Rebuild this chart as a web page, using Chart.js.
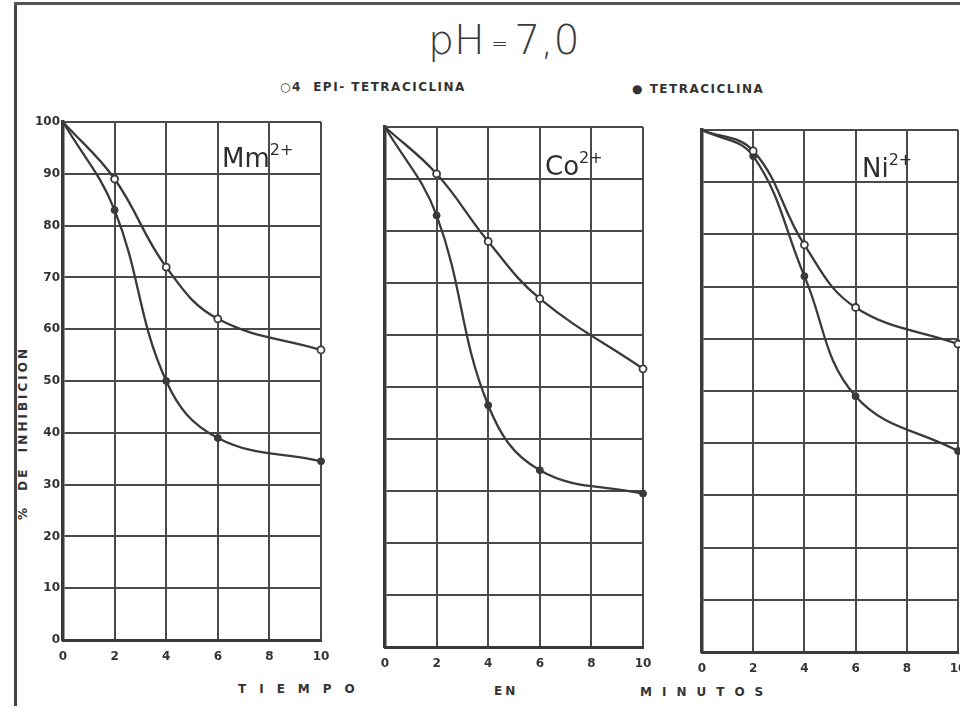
<!DOCTYPE html>
<html>
<head>
<meta charset="utf-8">
<script src="https://cdn.jsdelivr.net/npm/chart.js@4.4.1/dist/chart.umd.min.js"></script>
<style>
  html, body { margin:0; padding:0; background:#fff; width:960px; height:706px; overflow:hidden; }
  body { position:relative; font-family:"DejaVu Sans", sans-serif; color:#333; }
  canvas { position:absolute; }
  .t { position:absolute; white-space:nowrap; color:#333; }
  .lbl { font-weight:bold; font-size:12px; letter-spacing:1.5px; }
  .ion { font-family:"DejaVu Sans", sans-serif; font-size:26px; color:#2e2e2e; }
  .ion sup { font-size:16px; position:relative; top:-3px; vertical-align:top; }
  .bar { position:absolute; background:#444; }
</style>
</head>
<body>
<div class="bar" style="left:14px;top:2px;width:3px;height:704px;"></div>
<div class="bar" style="left:14px;top:2px;width:946px;height:3px;background:#555;"></div>

<div class="t" style="left:428px;top:16px;font-size:41px;font-family:'DejaVu Sans',sans-serif;font-weight:300;color:#3a3a3a;">pH<span style="font-size:20px;vertical-align:middle;"> = </span>7,0</div>
<div class="t lbl" style="left:280px;top:80px;">○4&nbsp; EPI- TETRACICLINA</div>
<div class="t lbl" style="left:632px;top:82px;">● TETRACICLINA</div>

<div class="t lbl" style="left:23px;top:433px;transform:translate(-50%,-50%) rotate(-90deg);letter-spacing:3px;">% &nbsp;DE &nbsp;INHIBICION</div>

<div class="t lbl" style="left:238px;top:682px;letter-spacing:13px;">TIEMPO</div>
<div class="t lbl" style="left:494px;top:684px;letter-spacing:3px;">EN</div>
<div class="t lbl" style="left:640px;top:685px;letter-spacing:10px;">MINUTOS</div>

<canvas id="mn"></canvas>
<canvas id="co"></canvas>
<canvas id="ni"></canvas>

<div class="t ion" style="left:222px;top:143px;">Mm<sup>2+</sup></div>
<div class="t ion" style="left:545px;top:151px;">Co<sup>2+</sup></div>
<div class="t ion" style="left:862px;top:153px;">Ni<sup>2+</sup></div>

<script>
// ---- data ----
const minutes = [0, 2, 4, 6, 10];
const xTicks = [0, 2, 4, 6, 8, 10];
const yTicks = [0, 10, 20, 30, 40, 50, 60, 70, 80, 90, 100];

const mnEpi = [100, 89, 72, 62, 56];
const mnTet = [100, 83, 50, 39, 34.5];
const coEpi = [100, 91, 78, 67, 53.5];
const coTet = [100, 83, 46.5, 34, 29.5];
const niEpi = [100, 96, 78, 66, 59];
const niTet = [100, 95, 72, 49, 38.5];

const INK = '#3a3a3a';

function pts(vals) { return minutes.map((m, i) => ({ x: m, y: vals[i] })); }

function panel(id, box, epi, tet, showY) {
  const cv = document.getElementById(id);
  const yW = box.yW, xH = 30, padT = 12, padR = 20;
  const W = yW + box.w + padR, H = padT + box.h + xH;
  cv.width = W; cv.height = H;
  cv.style.width = W + 'px'; cv.style.height = H + 'px';
  cv.style.left = (box.left - yW) + 'px';
  cv.style.top = (box.top - padT) + 'px';
  const radii = minutes.map((m) => (m === 0 ? 0 : 3.5));
  new Chart(cv, {
    type: 'line',
    data: {
      datasets: [
        { label: '4 EPI-TETRACICLINA', data: pts(epi), borderColor: INK, borderWidth: 2.3,
          pointRadius: radii, pointBackgroundColor: '#fff', pointBorderColor: INK, pointBorderWidth: 1.8,
          tension: 0.4, fill: false, clip: false },
        { label: 'TETRACICLINA', data: pts(tet), borderColor: INK, borderWidth: 2.3,
          pointRadius: radii, pointBackgroundColor: INK, pointBorderColor: INK, pointBorderWidth: 1,
          tension: 0.4, fill: false, clip: false }
      ]
    },
    options: {
      responsive: false, animation: false, devicePixelRatio: 1,
      layout: { padding: { top: padT, right: padR, left: 0, bottom: 0 } },
      plugins: { legend: { display: false }, tooltip: { enabled: false } },
      scales: {
        x: {
          type: 'linear', min: 0, max: 10,
          afterBuildTicks: (s) => { s.ticks = xTicks.map(v => ({ value: v })); },
          afterFit: (s) => { s.height = xH; },
          grid: { color: '#4a4a4a', lineWidth: 2, drawTicks: false },
          border: { color: '#3a3a3a', width: 3 },
          ticks: { color: '#333', padding: 10, maxRotation: 0,
                   font: { family: 'DejaVu Sans', weight: 'bold', size: 12 } }
        },
        y: {
          type: 'linear', min: 0, max: 100,
          afterBuildTicks: (s) => { s.ticks = yTicks.map(v => ({ value: v })); },
          afterFit: (s) => { s.width = yW; },
          grid: { color: '#4a4a4a', lineWidth: 2, drawTicks: false },
          border: { color: '#3a3a3a', width: 3.5 },
          ticks: { display: showY, color: '#333', padding: 3,
                   font: { family: 'DejaVu Sans', weight: 'bold', size: 12 } }
        }
      }
    }
  });
}

panel('mn', { left: 63, top: 122, w: 258, h: 518, yW: 42 }, mnEpi, mnTet, true);
panel('co', { left: 385, top: 127, w: 258, h: 520, yW: 30 }, coEpi, coTet, false);
panel('ni', { left: 702, top: 130, w: 256, h: 522, yW: 30 }, niEpi, niTet, false);
</script>
</body>
</html>
